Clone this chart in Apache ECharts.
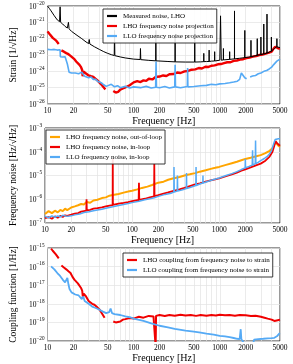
<!DOCTYPE html>
<html><head><meta charset="utf-8">
<script src="https://cdn.jsdelivr.net/npm/echarts@6/dist/echarts.min.js"></script>
<style>html,body{margin:0;padding:0;background:#fff}#c{width:293px;height:364px}</style>
</head><body><div id="c"></div>
<script>
// ---- tick labels / gridlines ----
const xTickLabels = [10, 20, 50, 100, 200, 500, 1000, 2000, 5000];
const xGridFreqs = [10,20,30,40,50,60,70,80,90,100,200,300,400,500,600,700,800,900,1000,2000,3000,4000,5000];
const yRange1 = [1e-26, 1e-20];
const yRange2 = [1e-7, 1e-3];
const yRange3 = [1e-20, 1e-15];

// ---- Panel 1: strain ----
const measuredLHO = [[10,1e-20],[10.5,7.1e-21],[11,5.0e-21],[12,2.5e-21],[13,1.4e-21],[13.8,1.1e-21],[14,8.9e-21],[14.2,1.0e-21],[15,7.9e-22],[16,5.6e-22],[17,4.5e-22],[17.5,1.0e-21],[17.8,4.0e-22],[19,2.8e-22],[20,2.2e-22],[22,1.6e-22],[25,1.0e-22],[28,6.3e-23],[30,5.0e-23],[30.5,8.9e-23],[31,4.7e-23],[35,3.2e-23],[40,2.2e-23],[45,1.6e-23],[50,1.26e-23],[55,1.05e-23],[59.5,9.3e-24],[60,3.2e-22],[60.5,9.1e-24],[70,7.6e-24],[80,6.6e-24],[100,5.6e-24],[119,5.3e-24],[120,2.5e-23],[121,5.2e-24],[150,4.7e-24],[180,4.4e-24],[181,3.2e-22],[182,4.4e-24],[250,4.0e-24],[302,3.8e-24],[303,1.6e-22],[304,3.8e-24],[400,3.7e-24],[510,3.7e-24],[512,6.3e-22],[514,3.7e-24],[600,3.8e-24],[650,3.9e-24],[652,1.26e-23],[654,3.9e-24],[700,4.0e-24],[750,4.0e-24],[752,2.0e-23],[754,4.0e-24],[800,4.2e-24],[870,4.3e-24],[872,1.6e-23],[874,4.3e-24],[1000,4.8e-24],[1020,2.5e-21],[1040,4.8e-24],[1100,5.0e-24],[1102,2.5e-23],[1104,5.0e-24],[1300,5.4e-24],[1302,1.6e-23],[1304,5.4e-24],[1480,5.8e-24],[1482,5.0e-21],[1484,5.8e-24],[1700,6.3e-24],[1950,6.9e-24],[1952,3.2e-22],[1954,6.9e-24],[2300,7.8e-24],[2302,7.9e-23],[2304,7.8e-24],[2720,9.5e-24],[2722,1.0e-22],[2724,9.5e-24],[3000,1.05e-23],[3002,1.26e-22],[3004,1.05e-23],[3240,1.15e-23],[3242,7.9e-22],[3244,1.15e-23],[3530,1.3e-23],[3532,3.2e-21],[3534,1.3e-23],[3970,1.7e-23],[3972,1.26e-22],[3974,1.7e-23],[4300,2.5e-23],[4600,3.2e-23],[4602,1.0e-22],[4604,3.2e-23],[4700,3.5e-23],[5000,2.8e-23]];

const lhoProjection = [[10,2.8e-22],[10.5,2.0e-22],[11,1.6e-22],[11.5,1.12e-22],[12,1.0e-22],[12.5,7.9e-23],[13,6.3e-23],[13.5,4.7e-23],[14,null],[14.5,1.9e-23],[15.5,1.6e-23],[16.5,1.3e-23],[17.5,1.12e-23],[18.5,8.9e-24],[19.5,7.1e-24],[20.5,5.6e-24],[21.5,4.0e-24],[22.5,3.5e-24],[23.5,2.5e-24],[24.5,1.8e-24],[25.2,1.26e-24],[25.6,5.0e-25],[26,1.0e-24],[26.5,1.26e-24],[27.5,7.9e-25],[28.5,8.9e-25],[30,5.6e-25],[31,7.1e-25],[32,5.0e-25],[34,4.5e-25],[36,3.5e-25],[38,2.8e-25],[40,2.2e-25],[42,1.6e-25],[44,1.26e-25],[46,8.9e-26],[47,7.9e-26],[52,null],[58,6.3e-26],[60,7.9e-26],[62,5.0e-26],[64,6.3e-26],[66,5.6e-26],[70,7.6e-26],[75,8.9e-26],[80,1.05e-25],[85,1.2e-25],[90,1.4e-25],[100,2.1e-25],[110,2.5e-25],[120,2.2e-25],[130,2.8e-25],[140,2.6e-25],[150,3.5e-25],[165,3.2e-25],[180,4.5e-25],[200,4.8e-25],[220,5.6e-25],[240,5.2e-25],[260,6.6e-25],[290,6.8e-25],[320,8.5e-25],[350,7.9e-25],[390,1.0e-24],[430,1.05e-24],[470,1.26e-24],[520,1.32e-24],[570,1.6e-24],[620,1.5e-24],[680,1.9e-24],[740,1.86e-24],[800,2.2e-24],[870,2.3e-24],[950,2.7e-24],[1030,2.8e-24],[1120,3.2e-24],[1220,3.6e-24],[1330,3.6e-24],[1450,4.4e-24],[1580,4.6e-24],[1720,5.2e-24],[1870,5.5e-24],[2040,6.5e-24],[2220,6.9e-24],[2420,7.9e-24],[2640,8.7e-24],[2880,1.0e-23],[3140,1.07e-23],[3420,1.2e-23],[3730,1.38e-23],[4000,1.6e-23],[4200,2.4e-23],[4400,3.2e-23],[4600,3.0e-23],[4800,2.5e-23],[5000,2.6e-23]];

const lloProjection = [[10,2.2e-23],[11,2.1e-23],[12,2.2e-23],[13,2.0e-23],[14,2.1e-23],[14.1,7.9e-24],[15,7.6e-24],[16,7.9e-24],[16.8,7.9e-24],[17,2.8e-24],[17.5,3.2e-24],[17.8,8.9e-25],[19,7.9e-25],[20,7.1e-25],[21,7.9e-25],[22,6.3e-25],[23,7.1e-25],[24,5.6e-25],[25,8.9e-25],[26,1.0e-24],[27,5.0e-25],[28,5.6e-25],[30,4.0e-25],[32,4.5e-25],[34,3.2e-25],[36,3.3e-25],[38,2.5e-25],[40,2.2e-25],[42,2.0e-25],[45,1.5e-25],[48,1.2e-25],[50,1.4e-25],[55,1.6e-25],[60,1.12e-25],[65,1.32e-25],[70,1.0e-25],[80,1.2e-25],[90,9.5e-26],[100,1.12e-25],[120,1.0e-25],[140,1.2e-25],[160,9.5e-26],[180,1.07e-25],[182,4.0e-24],[184,1.07e-25],[200,1.0e-25],[230,1.17e-25],[260,9.5e-26],[300,1.12e-25],[303,2.5e-24],[306,1.12e-25],[350,1.0e-25],[420,1.17e-25],[423,1.6e-24],[426,1.12e-25],[500,1.17e-25],[600,1.32e-25],[700,1.38e-25],[800,1.6e-25],[900,1.5e-25],[1000,1.7e-25],[1150,1.8e-25],[1300,2.0e-25],[1450,2.2e-25],[1600,2.5e-25],[1700,3.2e-25],[1780,7.9e-25],[1850,7.1e-25],[1950,4.0e-25],[2050,3.5e-25],[2150,null],[2250,4.5e-25],[2400,5.2e-25],[2600,5.6e-25],[2800,7.1e-25],[3000,7.9e-25],[3250,1.0e-24],[3500,1.12e-24],[3750,1.4e-24],[4000,1.8e-24],[4200,2.5e-24],[4400,3.2e-24],[4600,4.2e-24],[4800,5.0e-24],[5000,5.6e-24]];

// ---- Panel 2: frequency noise ----
const lhoOutOfLoop = [[10,2.4e-7],[11,3.16e-7],[12,2.6e-7],[13,3.3e-7],[14,2.8e-7],[15,3.55e-7],[16,3.16e-7],[17,4.0e-7],[18,3.5e-7],[20,4.5e-7],[22,5.0e-7],[24,5.6e-7],[26,6.3e-7],[28,6.0e-7],[30,7.6e-7],[33,7.1e-7],[36,8.9e-7],[40,9.5e-7],[45,1.12e-6],[50,1.2e-6],[55,1.41e-6],[60,1.5e-6],[70,1.66e-6],[80,1.9e-6],[90,2.1e-6],[100,2.3e-6],[115,2.6e-6],[130,3.0e-6],[150,3.4e-6],[170,4.0e-6],[200,5.0e-6],[230,5.5e-6],[260,6.6e-6],[300,7.6e-6],[350,8.7e-6],[400,1.0e-5],[460,1.12e-5],[530,1.26e-5],[600,1.45e-5],[700,1.66e-5],[800,1.9e-5],[900,2.1e-5],[1000,2.3e-5],[1200,2.8e-5],[1400,3.3e-5],[1600,3.8e-5],[1800,4.4e-5],[2000,5.0e-5],[2300,5.6e-5],[2600,6.3e-5],[3000,7.2e-5],[3400,8.7e-5],[3800,1.1e-4],[4100,1.41e-4],[4300,2.0e-4],[4450,2.5e-4],[4600,2.24e-4],[4800,1.78e-4],[5000,1.6e-4]];

const lhoInLoop = [[10,1.6e-7],[11,1.78e-7],[12,1.5e-7],[13,1.9e-7],[14,1.66e-7],[15,2.0e-7],[16,1.8e-7],[17,2.1e-7],[18,2.0e-7],[20,2.24e-7],[22,2.5e-7],[24,2.6e-7],[26,3.0e-7],[28,3.16e-7],[29.8,3.3e-7],[30,1.0e-6],[30.2,3.4e-7],[33,3.55e-7],[36,4.0e-7],[40,4.2e-7],[45,4.5e-7],[50,5.0e-7],[55,5.4e-7],[59.8,5.6e-7],[60,5.0e-5],[60.2,5.8e-7],[70,6.6e-7],[80,7.1e-7],[90,7.6e-7],[100,8.3e-7],[119,9.3e-7],[120,5.0e-6],[121,9.5e-7],[140,1.05e-6],[160,1.2e-6],[179,1.32e-6],[180,3.16e-5],[181,1.35e-6],[200,1.5e-6],[230,1.74e-6],[260,1.95e-6],[300,2.24e-6],[350,2.6e-6],[400,3.0e-6],[460,3.55e-6],[530,4.2e-6],[600,4.7e-6],[700,5.5e-6],[800,6.3e-6],[900,6.9e-6],[1000,7.6e-6],[1200,9.3e-6],[1400,1.12e-5],[1600,1.32e-5],[1800,1.6e-5],[2000,1.8e-5],[2300,2.2e-5],[2600,2.6e-5],[3000,3.16e-5],[3400,4.2e-5],[3800,6.3e-5],[4100,1.0e-4],[4300,1.78e-4],[4450,2.8e-4],[4550,3.16e-4],[4650,2.24e-4],[4800,1.9e-4],[5000,1.78e-4]];

const lloInLoop = [[10,1.9e-7],[11,1.66e-7],[12,2.0e-7],[13,1.74e-7],[14,2.0e-7],[15,1.8e-7],[16,2.1e-7],[18,1.9e-7],[20,2.0e-7],[22,2.2e-7],[25,2.4e-7],[28,2.75e-7],[32,3.0e-7],[36,3.3e-7],[40,3.55e-7],[45,3.8e-7],[50,4.2e-7],[60,4.8e-7],[70,5.4e-7],[80,6.0e-7],[90,6.6e-7],[100,7.2e-7],[120,8.3e-7],[140,9.5e-7],[160,1.05e-6],[180,1.15e-6],[200,1.32e-6],[240,1.6e-6],[280,1.8e-6],[302,2.0e-6],[303,2.3e-5],[305,2.0e-6],[330,2.2e-6],[332,1.0e-5],[334,2.2e-6],[380,2.5e-6],[420,2.8e-6],[422,1.26e-5],[424,2.8e-6],[480,3.3e-6],[540,3.8e-6],[543,2.3e-5],[546,3.8e-6],[600,4.4e-6],[650,4.8e-6],[652,1.0e-5],[654,4.8e-6],[750,5.75e-6],[850,6.6e-6],[1000,7.9e-6],[1200,1.0e-5],[1400,1.2e-5],[1600,1.45e-5],[1800,1.78e-5],[1990,2.1e-5],[2000,5.0e-5],[2010,2.1e-5],[2200,2.4e-5],[2400,2.75e-5],[2420,1.15e-4],[2440,2.75e-5],[2600,3.16e-5],[2620,3.0e-4],[2640,3.16e-5],[2800,3.55e-5],[3000,4.2e-5],[3300,5.2e-5],[3600,6.6e-5],[3800,8.3e-5],[4000,1.12e-4],[4200,2.0e-4],[4400,3.3e-4],[4600,3.8e-4],[4800,3.55e-4],[5000,3.55e-4]];

// ---- Panel 3: coupling function ----
const lhoCoupling = [[11,9.3e-16],[11.5,7.1e-16],[12,5.6e-16],[12.5,4.5e-16],[13,3.55e-16],[13.5,2.75e-16],[14,null],[14.5,1.15e-16],[15.5,8.9e-17],[16.5,7.1e-17],[17.5,5.6e-17],[18.5,4.5e-17],[19.5,2.8e-17],[20.5,2.0e-17],[21.5,1.6e-17],[22.5,1.26e-17],[23.5,1.0e-17],[24.5,7.1e-18],[25.3,5.0e-18],[25.8,2.0e-18],[26.3,3.55e-18],[27,3.16e-18],[28,2.5e-18],[29,2.0e-18],[30,1.41e-18],[31,1.78e-18],[33,1.0e-18],[35,8.9e-19],[37,7.1e-19],[40,5.0e-19],[42,3.55e-19],[44,2.8e-19],[46,1.78e-19],[52,null],[58,1.12e-19],[60,1.41e-19],[62,1.0e-19],[65,1.26e-19],[70,1.12e-19],[75,1.41e-19],[80,1.5e-19],[90,1.74e-19],[100,1.6e-19],[115,2.0e-19],[130,1.8e-19],[150,2.24e-19],[170,2.1e-19],[178,2.4e-19],[180,5.0e-21],[182,2.24e-19],[200,2.5e-19],[230,2.2e-19],[260,2.5e-19],[300,2.3e-19],[350,2.6e-19],[400,2.35e-19],[460,2.5e-19],[530,2.24e-19],[600,2.5e-19],[700,2.3e-19],[800,2.5e-19],[900,2.35e-19],[1000,2.6e-19],[1150,2.4e-19],[1300,2.5e-19],[1500,2.3e-19],[1700,2.5e-19],[2000,2.4e-19],[2300,2.2e-19],[2600,2.3e-19],[3000,2.0e-19],[3300,1.78e-19],[3600,1.6e-19],[4000,1.41e-19],[4300,1.2e-19],[4500,1.12e-19],[4700,1.32e-19],[5000,1.41e-19]];

const lloCoupling = [[11,1.02e-16],[12,7.1e-17],[13,4.5e-17],[14,3.16e-17],[15,2.0e-17],[16,1.41e-17],[16.5,1.12e-17],[17,2.5e-17],[17.5,1.12e-17],[18,6.3e-18],[19,4.1e-18],[20,3.55e-18],[21,3.16e-18],[22,2.7e-18],[23,2.8e-18],[24,2.24e-18],[25,1.8e-18],[26,2.5e-18],[27,1.41e-18],[28,1.26e-18],[30,1.0e-18],[31,7.9e-19],[33,7.1e-19],[35,6.3e-19],[38,5.4e-19],[40,4.5e-19],[44,3.8e-19],[48,3.16e-19],[52,3.55e-19],[54,5.6e-19],[56,3.16e-19],[60,2.8e-19],[70,2.5e-19],[80,2.1e-19],[90,1.9e-19],[100,1.6e-19],[130,1.2e-19],[160,8.9e-20],[200,6.6e-20],[250,5.4e-20],[300,4.5e-20],[400,3.6e-20],[500,3.16e-20],[600,2.8e-20],[700,2.5e-20],[850,2.2e-20],[1000,1.9e-20],[1150,1.78e-20],[1300,1.6e-20],[1450,1.45e-20],[1600,1.32e-20],[1700,1.26e-20],[1750,4.3e-20],[1780,1.26e-20],[1850,1.1e-20],[1900,7.9e-21],[2150,null],[2450,7.9e-21],[2500,1.17e-20],[2800,1.26e-20],[3200,1.32e-20],[3600,1.38e-20],[4000,1.41e-20],[4300,1.48e-20],[4600,1.78e-20],[4900,2.5e-20],[5000,2.6e-20]];

// ---- styling ----
const FONT = 'Liberation Serif';
const RED = '#f00000', BLUE = '#55aaf5', ORANGE = '#ffa500', BLACK = '#000';
// both axes are logarithmic: positions come from log10 of the read values
const toXY = arr => arr.map(([f, v]) => [Math.log10(f), v == null ? '-' : Math.log10(v)]);

const grids = [
  {left: 42, right: 13, top: 6, height: 98},
  {left: 42, right: 13, top: 128, height: 95},
  {left: 42, right: 13, top: 248, height: 95}
].map(g => Object.assign({show: true, borderColor: '#000', borderWidth: 0.8, containLabel: false}, g));

function xAxis(i) {
  return {
    type: 'value', gridIndex: i, min: 1, max: Math.log10(5000),
    name: 'Frequency [Hz]', nameLocation: 'middle', nameGap: 12,
    nameTextStyle: {fontFamily: FONT, fontSize: 10, color: '#000'},
    axisLine: {show: false},
    axisTick: {show: false, customValues: xGridFreqs.map(f => Math.log10(f))},
    splitLine: {show: true, lineStyle: {color: '#e3e3e3', width: 0.7}},
    axisLabel: {
      customValues: xTickLabels.map(f => Math.log10(f)),
      formatter: v => String(Math.round(Math.pow(10, v))),
      fontFamily: FONT, fontSize: 7.5, color: '#000', margin: 3
    }
  };
}
function yAxis(i, range, name) {
  return {
    type: 'value', gridIndex: i, min: Math.log10(range[0]), max: Math.log10(range[1]), interval: 1,
    name: name, nameLocation: 'middle', nameGap: 27,
    nameTextStyle: {fontFamily: FONT, fontSize: 9.5, color: '#000'},
    axisLine: {show: false}, axisTick: {show: false},
    splitLine: {show: true, lineStyle: {color: '#e3e3e3', width: 0.7}},
    axisLabel: {
      margin: 3,
      formatter: v => '{b|10}{e|\u2212' + Math.abs(Math.round(v)) + '}',
      rich: {
        b: {fontFamily: FONT, fontSize: 7.5, color: '#000', verticalAlign: 'bottom', lineHeight: 10},
        e: {fontFamily: FONT, fontSize: 5.2, color: '#000', verticalAlign: 'top', lineHeight: 10}
      }
    }
  };
}
function line(name, data, color, width, xi, z) {
  return {
    name, type: 'line', xAxisIndex: xi, yAxisIndex: xi, data: toXY(data),
    showSymbol: false, symbol: 'none', connectNulls: false, clip: true, z: z || 2,
    lineStyle: {color, width}, itemStyle: {color}
  };
}
function legend(names, left, top) {
  return {
    data: names, orient: 'vertical', left, top, icon: 'rect', itemWidth: 10, itemHeight: 2.2,
    itemGap: 2, padding: [3, 3, 3, 4], borderColor: '#222', borderWidth: 0.9, borderRadius: 0,
    backgroundColor: 'rgba(255,255,255,0.88)', selectedMode: false,
    textStyle: {fontFamily: FONT, fontSize: 7, color: '#000', lineHeight: 8, padding: [0, 0, 0, 1]}
  };
}

const chart = echarts.init(document.getElementById('c'), null, {renderer: 'canvas'});
chart.setOption({
  animation: false,
  backgroundColor: '#fff',
  grid: grids,
  xAxis: [xAxis(0), xAxis(1), xAxis(2)],
  yAxis: [
    yAxis(0, yRange1, 'Strain [1/\u221AHz]'),
    yAxis(1, yRange2, 'Frequency noise [Hz/\u221AHz]'),
    yAxis(2, yRange3, 'Coupling function [1/Hz]')
  ],
  legend: [
    legend(['Measured noise, LHO', 'LHO frequency noise projection', 'LLO frequency noise projection'], 103, 9),
    legend(['LHO frequency noise, out-of-loop', 'LHO frequency noise, in-loop', 'LLO frequency noise, in-loop'], 46, 130),
    legend(['LHO coupling from frequency noise to strain', 'LLO coupling from frequency noise to strain'], 123, 253)
  ],
  series: [
    line('Measured noise, LHO', measuredLHO, BLACK, 1, 0, 3),
    line('LHO frequency noise projection', lhoProjection, RED, 2.4, 0, 2),
    line('LLO frequency noise projection', lloProjection, BLUE, 1.6, 0, 2),
    line('LHO frequency noise, out-of-loop', lhoOutOfLoop, ORANGE, 2, 1),
    line('LHO frequency noise, in-loop', lhoInLoop, RED, 1.8, 1),
    line('LLO frequency noise, in-loop', lloInLoop, BLUE, 1.5, 1),
    line('LHO coupling from frequency noise to strain', lhoCoupling, RED, 2, 2),
    line('LLO coupling from frequency noise to strain', lloCoupling, BLUE, 1.8, 2)
  ]
});
</script></body></html>
